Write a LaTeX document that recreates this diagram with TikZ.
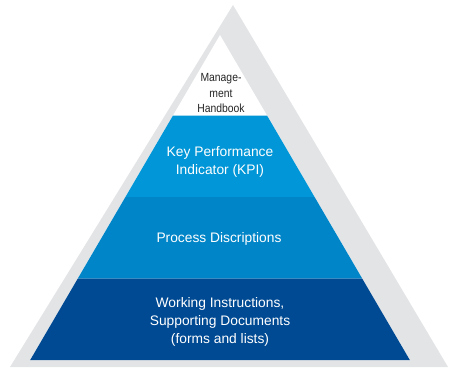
\documentclass[tikz,border=0pt]{standalone}
\usepackage{fontspec}
\newfontfamily\labelfont{Liberation Sans}
\newfontfamily\condfont[FakeStretch=0.88]{Liberation Sans}
\definecolor{framegray}{RGB}{227,228,230}
\definecolor{kpiblue}{RGB}{0,150,215}
\definecolor{procblue}{RGB}{0,133,200}
\definecolor{workblue}{RGB}{0,74,147}
\begin{document}
\begin{tikzpicture}[x=1pt,y=1pt,yscale=-1,xscale=1,
  layertext/.style={text=white,align=center,inner sep=0.75pt,font=\labelfont\fontsize{13.8}{17.8}\selectfont},
  toptext/.style={text=black!85,align=center,inner sep=0.75pt,font=\condfont\fontsize{11.8}{15.5}\selectfont}]
\useasboundingbox (0,0) rectangle (449,367);

%Shape: Triangle [id:frame]
\fill [framegray] (233,5) -- (448,367) -- (10,367) -- cycle ;
%Shape: Triangle [id:inner]
\fill [white] (220,35) -- (409.8,360) -- (30.2,360) -- cycle ;
%Shape: Trapezoid [id:kpi]
\fill [kpiblue] (173,115.5) -- (267,115.5) -- (314.6,197) -- (125.4,197) -- cycle ;
%Shape: Trapezoid [id:process]
\fill [procblue] (125.4,197) -- (314.6,197) -- (362.2,278.5) -- (77.8,278.5) -- cycle ;
%Shape: Trapezoid [id:working]
\fill [workblue] (77.8,278.5) -- (362.2,278.5) -- (409.8,360) -- (30.2,360) -- cycle ;

% Text Node
\draw (221,93) node [toptext] (handbook) {Manage-\\ment\\Handbook};
% Text Node
\draw (220,162) node [layertext] (kpitext) {Key Performance\\Indicator (KPI)};
% Text Node
\draw (219,239) node [layertext] (proctext) {Process Discriptions};
% Text Node
\draw (220,322) node [layertext] (worktext) {Working Instructions,\\Supporting Documents\\(forms and lists)};

\end{tikzpicture}
\end{document}
